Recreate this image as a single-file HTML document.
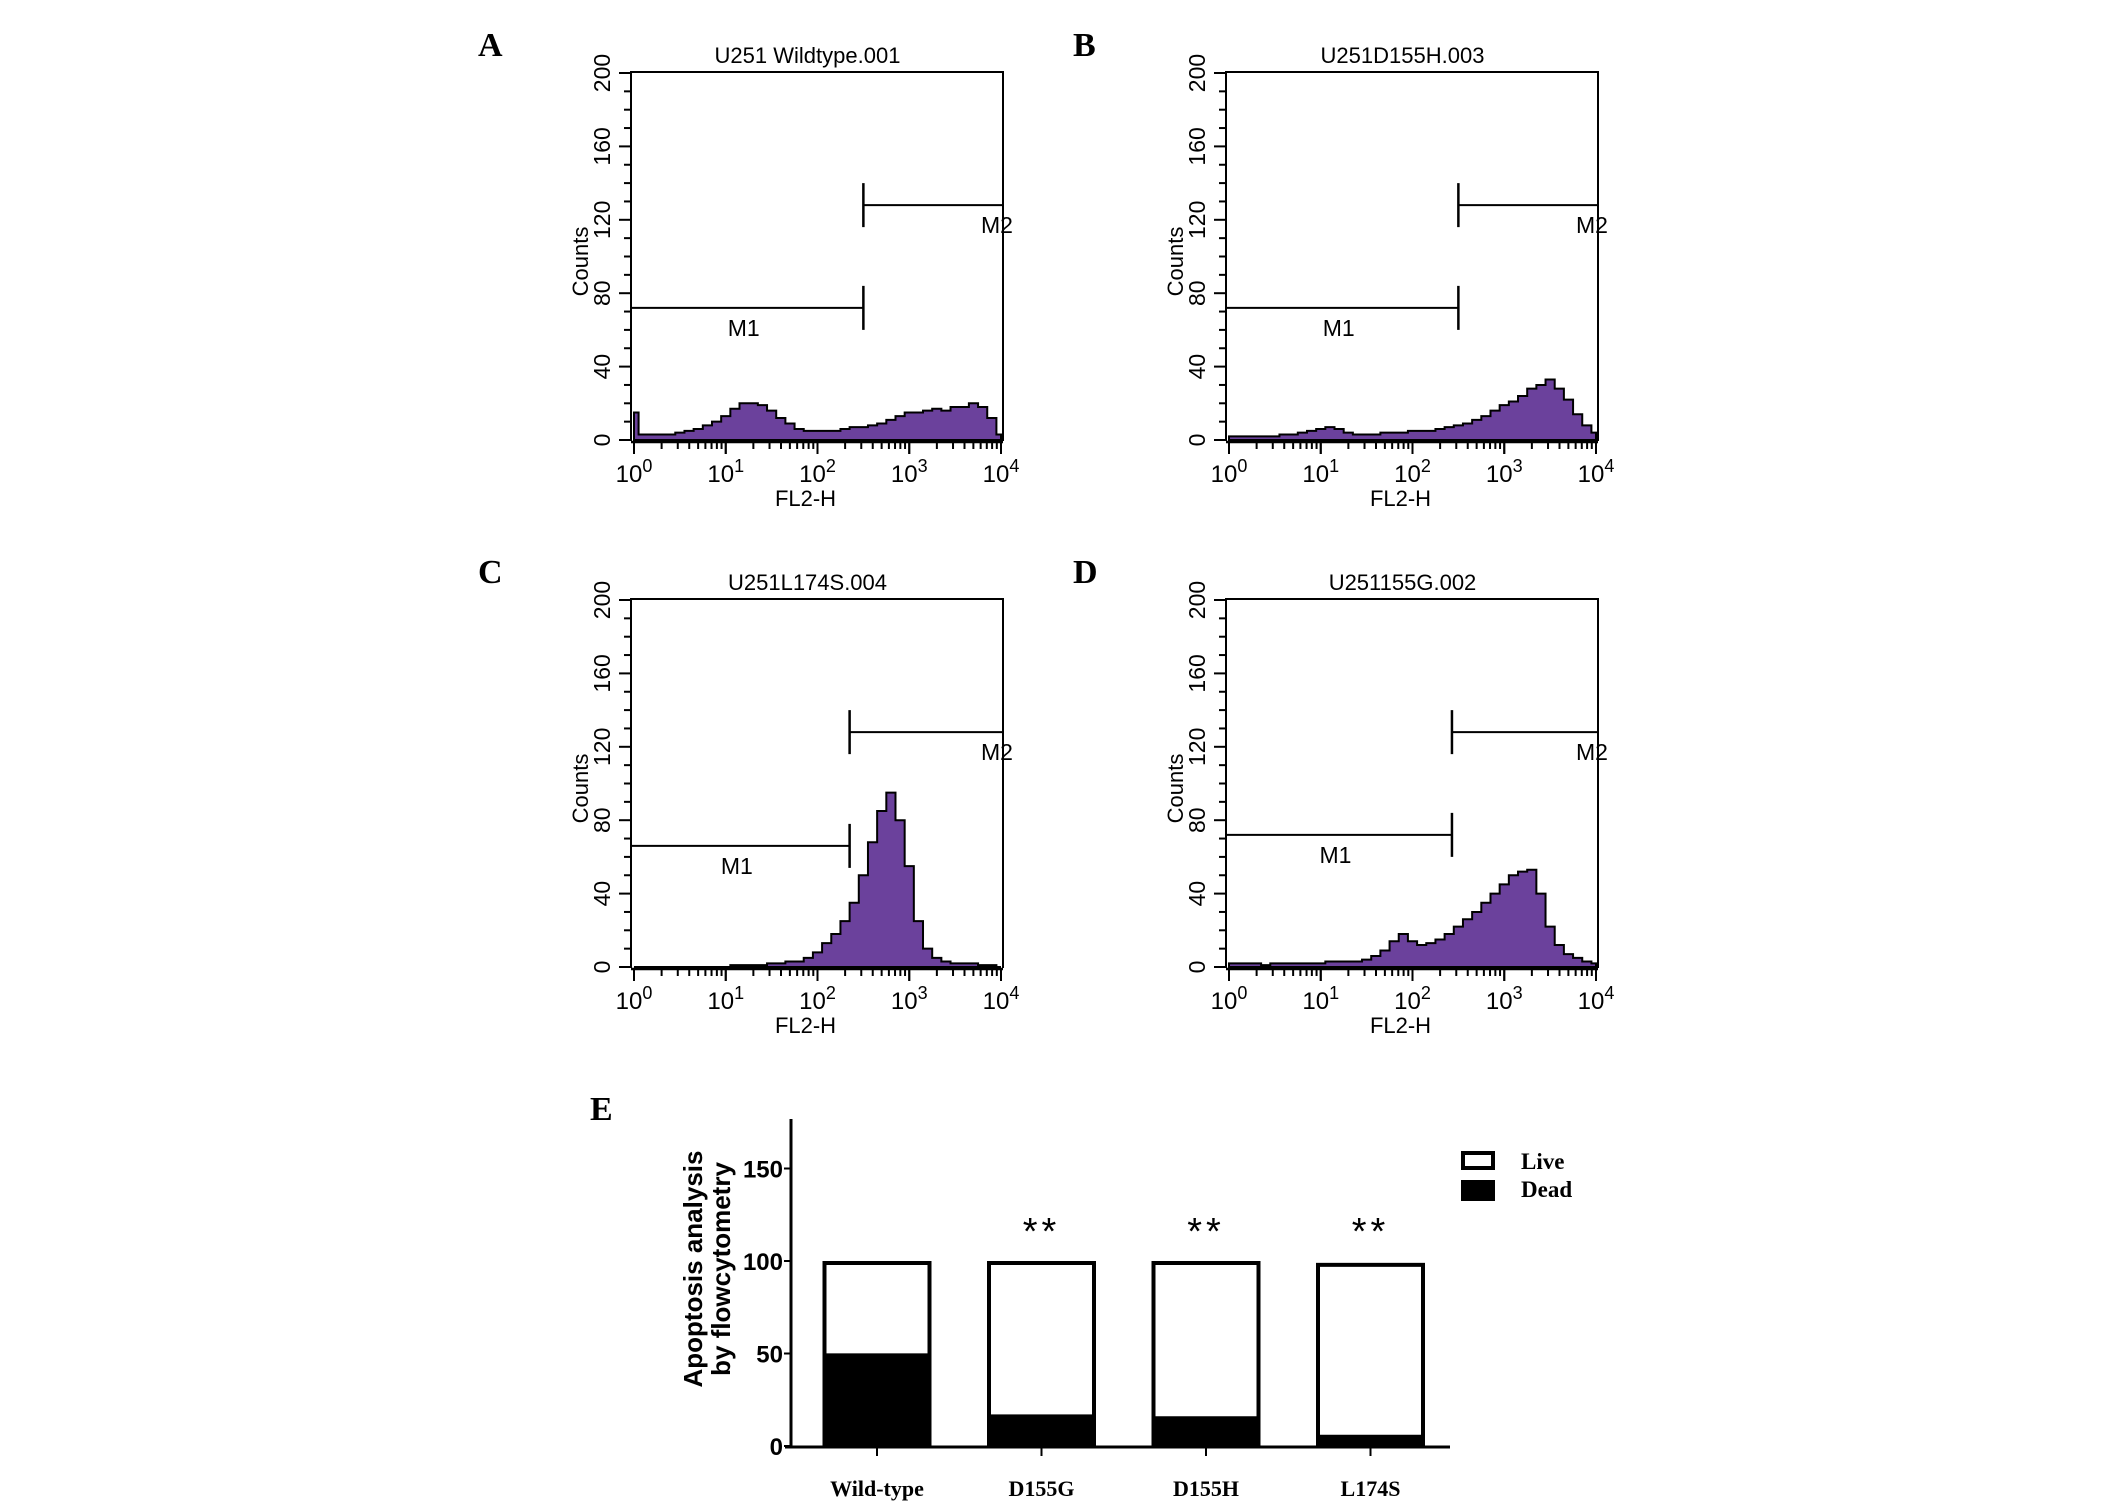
<!DOCTYPE html>
<html><head><meta charset="utf-8"><style>
html,body{margin:0;padding:0;background:#fff;}
svg{display:block;}
text{font-family:"Liberation Sans",sans-serif;fill:#000;}
.serif{font-family:"Liberation Serif",serif;font-weight:bold;}
</style></head><body>
<svg id="fig" width="2126" height="1510" viewBox="0 0 2126 1510" xmlns="http://www.w3.org/2000/svg"></svg>
<script>
// ---- Histogram data (counts per 0.1-decade bin, 10^0..10^4) ----
const histA = [15,3,3,3,3,4,5,6,8,10,13,17,20,20,19,16,12,9,6,5,5,5,5,6,7,7,8,9,11,13,15,15,16,17,16,18,18,20,18,12,3];
const histB = [2,2,2,2,2,2,3,3,4,5,6,7,6,4,3,3,3,4,4,4,5,5,5,6,7,8,9,11,13,16,19,21,24,28,30,33,28,22,14,8,4];
const histC = [0,0,0,0,0,0,0,0,0,0,0,1,1,1,1,2,2,3,3,5,8,13,18,25,35,50,68,85,95,80,55,25,10,5,3,2,2,2,1,1,0];
const histD = [2,2,2,2,1,2,2,2,2,2,2,3,3,3,3,4,6,9,14,18,14,12,13,15,18,22,26,30,35,40,45,50,52,53,40,22,12,7,5,3,2];
const panelTitles = ["U251 Wildtype.001","U251D155H.003","U251L174S.004","U251155G.002"];
const panelLetters = ["A","B","C","D"];
const gateX = [2.5,2.5,2.35,2.43];
const gateM1 = [72,72,66,72];
const gateM2 = [128,128,128,128];
const yTicks = [0,40,80,120,160,200];
const xTicks = [0,1,2,3,4];
// ---- Bar chart data ----
const barCats = ["Wild-type","D155G","D155H","L174S"];
const deadVals = [49,16,15,5];
const totalVals = [100,100,100,99];
const sigLabels = ["","**","**","**"];
const barYTicks = [0,50,100,150];

const NS="http://www.w3.org/2000/svg";
const svg=document.getElementById('fig');
function mk(tag,attrs,parent){const e=document.createElementNS(NS,tag);for(const k in attrs)e.setAttribute(k,attrs[k]);(parent||svg).appendChild(e);return e;}

const hists=[histA,histB,histC,histD];
const offs=[[0,0],[595,0],[0,527],[595,527]];
hists.forEach((h,p)=>{
  const ox=offs[p][0], oy=offs[p][1];
  const g=mk('g',{});
  
  
  const x0=634+ox, x1=1001+ox, y0=440+oy, y200=73+oy;
  const sx=v=>x0+(x1-x0)*v/4;
  const sy=c=>y0+(y200-y0)*c/200;
  let d='M'+sx(0)+','+sy(0);
  h.forEach((c,i)=>{const a=sx(i*0.1-0.05<0?0:i*0.1-0.05), b=sx(Math.min(4,i*0.1+0.05));d+=' L'+a+','+sy(c)+' L'+b+','+sy(c);});
  d+=' L'+sx(4)+','+sy(0)+' Z';
  const area=mk('path',{d:d,fill:'#6b419c',stroke:'#000','stroke-width':2},g);
  
  
  const box=mk('path',{d:`M${x0-3},${y0+1} L${x0-3},${y200-1} L${x1+2},${y200-1} L${x1+2},${y0+1}`,fill:'none',stroke:'#000','stroke-width':2},g);
  
  
  mk('line',{x1:x0-3,y1:y0+2,x2:x1+2,y2:y0+2,stroke:'#000','stroke-width':2.5},g);
  for(let c=0;c<=200;c+=10){const big=c%40===0;mk('line',{x1:x0-3-(big?12:7),y1:sy(c),x2:x0-3,y2:sy(c),stroke:'#000','stroke-width':2},g);}
  yTicks.forEach(c=>{const t=mk('text',{x:0,y:0,'font-size':23,'text-anchor':'middle',transform:`translate(${x0-24},${sy(c)}) rotate(-90)`},g);t.textContent=c;
    });
  for(let dcd=0;dcd<4;dcd++){for(let m=1;m<=10;m++){const v=dcd+Math.log10(m);const big=(m===1||m===10);mk('line',{x1:sx(v),y1:y0+2,x2:sx(v),y2:y0+(big?14:9),stroke:'#000','stroke-width':2},g);}}
  xTicks.forEach(v=>{const t=mk('text',{x:sx(v),y:y0+42,'font-size':24,'text-anchor':'middle'},g);t.innerHTML='10<tspan dy="-10" font-size="18">'+v+'</tspan>';
    });
  const xl=mk('text',{x:(x0+x1)/2-12,y:y0+66,'font-size':22,'text-anchor':'middle'},g);xl.textContent='FL2-H';
  
  const yl=mk('text',{x:0,y:0,'font-size':22,'text-anchor':'middle',transform:`translate(${x0-46},${sy(100)+5}) rotate(-90)`},g);yl.textContent='Counts';
  
  const tt=mk('text',{x:(x0+x1)/2-10,y:y200-10,'font-size':22,'text-anchor':'middle'},g);tt.textContent=panelTitles[p];
  
  const lt=mk('text',{x:478+ox,y:56+oy,'font-size':34,class:'serif'},g);lt.textContent=panelLetters[p];
  
  const gx=sx(gateX[p]);
  mk('line',{x1:x0-2,y1:sy(gateM1[p]),x2:gx,y2:sy(gateM1[p]),stroke:'#000','stroke-width':2},g);
  mk('line',{x1:gx,y1:sy(gateM1[p])-22,x2:gx,y2:sy(gateM1[p])+22,stroke:'#000','stroke-width':2.5},g);
  mk('line',{x1:gx,y1:sy(gateM2[p]),x2:x1+2,y2:sy(gateM2[p]),stroke:'#000','stroke-width':2},g);
  mk('line',{x1:gx,y1:sy(gateM2[p])-22,x2:gx,y2:sy(gateM2[p])+22,stroke:'#000','stroke-width':2.5},g);
  const m1=mk('text',{x:(x0+gx)/2-5,y:sy(gateM1[p])+28,'font-size':23,'text-anchor':'middle'},g);m1.textContent='M1';
  
  const m2=mk('text',{x:x1-20,y:sy(gateM2[p])+28,'font-size':23},g);m2.textContent='M2';
  
});

// ---- Panel E bar chart ----
(function(){
  const g=mk('g',{transform:'translate(-10,-14)'});
  
  
  const ax=801, y0=1460, y100=1275, axEnd=1460;
  const sy=v=>y0+(y100-y0)*v/100;
  const bx=i=>887+i*164.5, bw=109;
  barCats.forEach((c,i)=>{
    const x=bx(i)-bw/2;
    const live=mk('rect',{x:x+2,y:sy(totalVals[i])+2,width:bw-4,height:sy(deadVals[i])-sy(totalVals[i])-2,fill:'#fff',stroke:'#000','stroke-width':4},g);
    
    
    const dead=mk('rect',{x:x,y:sy(deadVals[i]),width:bw,height:y0-sy(deadVals[i]),fill:'#000'},g);
    
    
    mk('line',{x1:bx(i),y1:y0,x2:bx(i),y2:y0+10,stroke:'#000','stroke-width':2},g);
    const lb=mk('text',{x:bx(i),y:1510,'font-size':22,'text-anchor':'middle',class:'serif'},g);lb.textContent=c;
    
    if(sigLabels[i]){const s=mk('text',{x:bx(i),y:1258,'font-size':38,'text-anchor':'middle','letter-spacing':4},g);s.textContent=sigLabels[i];
      }
  });
  mk('line',{x1:ax,y1:1133,x2:ax,y2:y0+2,stroke:'#000','stroke-width':3},g);
  mk('line',{x1:ax-6,y1:y0+1,x2:axEnd,y2:y0+1,stroke:'#000','stroke-width':3},g);
  barYTicks.forEach(v=>{mk('line',{x1:ax-7,y1:sy(v),x2:ax,y2:sy(v),stroke:'#000','stroke-width':2},g);
    const t=mk('text',{x:ax-8,y:sy(v)+9,'font-size':24,'text-anchor':'end','font-weight':'bold'},g);t.textContent=v;
    });
  const yt=mk('text',{x:0,y:0,'font-size':26,'font-weight':'bold','text-anchor':'middle',transform:'translate(712,1283) rotate(-90)'},g);
  yt.innerHTML='<tspan x="0" dy="0">Apoptosis analysis</tspan><tspan x="0" dy="28">by flowcytometry</tspan>';
  
  const le=mk('text',{x:600,y:1134,'font-size':34,class:'serif'},g);le.textContent='E';
  
  const lg=mk('g',{transform:'translate(-6,2)'},g);
  
  mk('rect',{x:1479,y:1165,width:30,height:15,fill:'#fff',stroke:'#000','stroke-width':4},lg);
  mk('rect',{x:1477,y:1192,width:34,height:21,fill:'#000'},lg);
  const t1=mk('text',{x:1537,y:1181,'font-size':23,class:'serif'},lg);t1.textContent='Live';
  
  const t2=mk('text',{x:1537,y:1209,'font-size':23,class:'serif'},lg);t2.textContent='Dead';
  
})();
</script>
</body></html>
